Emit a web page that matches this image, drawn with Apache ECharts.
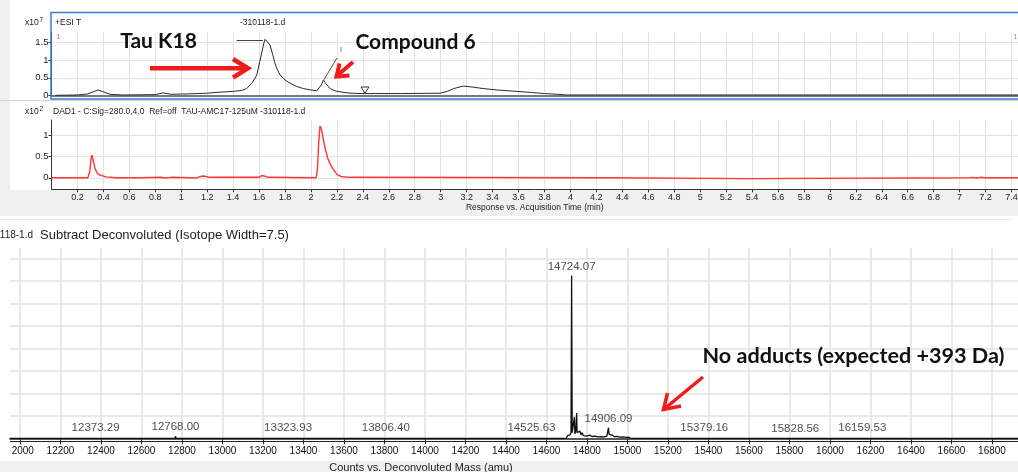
<!DOCTYPE html>
<html><head><meta charset="utf-8">
<script src="https://cdn.jsdelivr.net/npm/echarts@6/dist/echarts.min.js"></script>
<style>html,body{margin:0;padding:0;background:#fff}#c{width:1018px;height:472px}</style>
</head><body><div id="c"></div><script>
// ---- Data ----
// Total ion chromatogram (+ESI TIC), x10^7 counts vs time (min)
const ticTime = [0.03,0.2,0.28,0.33,0.36,0.39,0.45,0.55,0.8,0.86,0.92,1.05,1.2,1.3,1.4,1.47,1.505,1.55,1.582,1.605,1.62,1.635,1.646,1.66,1.685,1.705,1.723,1.742,1.762,1.8,1.839,1.89,1.941,2.0,2.045,2.06,2.08,2.096,2.11,2.147,2.19,2.224,2.301,2.4,2.7,2.995,3.05,3.1,3.173,3.25,3.327,3.435,3.55,3.7,3.8,3.9,3.97,4.5,5.5,6.5,7.45];
const ticValue = [0.01,0.02,0.05,0.12,0.16,0.12,0.04,0.02,0.03,0.08,0.04,0.05,0.07,0.1,0.12,0.15,0.2,0.38,0.58,0.95,1.19,1.45,1.58,1.56,1.42,1.15,0.9,0.72,0.58,0.44,0.35,0.26,0.2,0.16,0.14,0.16,0.3,0.44,0.36,0.2,0.13,0.11,0.07,0.06,0.06,0.07,0.12,0.2,0.27,0.24,0.2,0.16,0.13,0.09,0.06,0.04,0.02,0.02,0.02,0.02,0.02];
// DAD1 280 nm trace, x10^2 vs time (min)
const dadTime = [0,0.28,0.295,0.305,0.31,0.318,0.335,0.355,0.375,0.42,0.5,0.68,0.69,0.85,0.88,0.92,1.08,1.12,1.15,1.17,1.19,1.22,1.6,1.62,1.64,1.67,2.04,2.05,2.06,2.07,2.08,2.095,2.11,2.13,2.147,2.17,2.2,2.23,2.3,4.26,4.27,5.38,5.39,7.08,7.1,7.13,7.16,7.2,7.45];
const dadValue = [0,0,0.15,0.45,0.53,0.45,0.22,0.1,0.06,0.02,0,0,0.01,0.01,-0.005,0.01,0,-0.005,0.03,0.04,0.03,0.01,0.01,0.05,0.04,0.01,0,0.2,0.85,1.21,1.15,0.9,0.68,0.45,0.33,0.2,0.08,0.03,0.01,0,-0.02,-0.02,0,0,0.01,-0.005,0.01,0,0];
// Deconvoluted mass spectrum (relative counts) vs mass (amu)
const msMass = [11950,12370,12373.29,12376,12765,12768,12771,13321,13323.93,13327,13803,13806.4,13809,14522,14525.63,14529,14698,14704,14710,14716,14721,14724.07,14727,14733,14736,14738,14740,14745,14747,14749,14751,14756,14760,14765,14770,14776,14782,14790,14800,14812,14825,14840,14855,14870,14885,14898,14903,14906.09,14909,14915,14925,14935,14948,14962,14978,14995,15005,15015,15376,15379.16,15382,15825,15828.56,15832,16156,16159.53,16163,16930];
const msIntensity = [0,0,0.05,0,0,0.1,0,0,0.08,0,0,0.05,0,0,0.08,0,0,0.12,0.05,0.15,0.25,7.24,0.25,0.2,0.3,0.95,0.2,0.35,0.3,1.12,0.25,0.3,0.2,0.32,0.15,0.25,0.12,0.2,0.1,0.14,0.08,0.1,0.06,0.07,0.06,0.1,0.15,0.47,0.18,0.1,0.14,0.07,0.09,0.05,0.06,0.04,0.05,0,0,0.05,0,0,0.03,0,0,0.08,0,0];
// Labelled peaks
const peakMass = [12373.29,12768.00,13323.93,13806.40,14525.63,14724.07,14906.09,15379.16,15828.56,16159.53];
const peakTop = [0.05,0.1,0.08,0.05,0.08,7.24,0.47,0.05,0.03,0.08];
// Tick labels
const timeTicks = [0.2,0.4,0.6,0.8,1,1.2,1.4,1.6,1.8,2,2.2,2.4,2.6,2.8,3,3.2,3.4,3.6,3.8,4,4.2,4.4,4.6,4.8,5,5.2,5.4,5.6,5.8,6,6.2,6.4,6.6,6.8,7,7.2,7.4];
const ticYTicks = [0,0.5,1,1.5];
const dadYTicks = [0,0.5,1];
const massTicks = [12000,12200,12400,12600,12800,13000,13200,13400,13600,13800,14000,14200,14400,14600,14800,15000,15200,15400,15600,15800,16000,16200,16400,16600,16800];
const msGridValues = [1,2,3,4,5,6,7,8];

// ---- Chart ----
const F = '"Liberation Sans", Arial, sans-serif';
const A = 'Lato, "Open Sans", sans-serif';
const zip = (a, b) => a.map((v, i) => [v, b[i]]);
const gridLine = {show: true, lineStyle: {color: '#e3e3e3', width: 1}};

function txt(x, y, text, size, opt) {
  opt = opt || {};
  return {type: 'text', x: x, y: y, z: 60, silent: true,
    style: {text: text, fontSize: size, fontFamily: opt.family || F, fontWeight: opt.weight || 'normal',
      fill: opt.color || '#222', textAlign: opt.align || 'left', textVerticalAlign: 'middle'}};
}
function line(x1, y1, x2, y2, color, w, z) {
  return {type: 'line', z: z == null ? 55 : z, silent: true, shape: {x1: x1, y1: y1, x2: x2, y2: y2},
    style: {stroke: color, lineWidth: w}};
}
function poly(points, color, w) {
  return {type: 'polyline', z: 70, silent: true, shape: {points: points},
    style: {stroke: color, lineWidth: w, fill: null, lineJoin: 'miter'}};
}
const RED = '#f01c1c';

const graphics = [
  {type: 'rect', z: -20, silent: true, shape: {x: 0, y: 0, width: 1018, height: 216}, style: {fill: '#f0f0f0'}},
  {type: 'rect', z: -19, silent: true, shape: {x: 10, y: 0, width: 1008, height: 190}, style: {fill: '#ffffff'}},
  {type: 'rect', z: -19, silent: true, shape: {x: 0, y: 461, width: 1018, height: 11}, style: {fill: '#f0f0f0'}},
  {type: 'rect', z: 50, silent: true, shape: {x: 0, y: 443, width: 11.8, height: 17}, style: {fill: '#ffffff'}},
  {type: 'rect', z: 50, silent: true, shape: {x: 51, y: 12.5, width: 975, height: 86.5}, style: {fill: null, stroke: '#3b78d8', lineWidth: 1.5}},
  line(0, 100.5, 1018, 100.5, '#c9d7ec', 1, -18),
  line(0, 219.5, 1012, 219.5, '#e4e9f0', 1, -18),
  line(10, 441.5, 1018, 441.5, '#222', 1.2),
  // panel texts
  txt(25, 22.5, 'x10', 8.5), txt(39.5, 20, '7', 6.5),
  txt(55, 22.5, '+ESI T', 8.5),
  txt(240, 22.5, '-310118-1.d', 8.5),
  txt(56, 37, '1', 8, {color: '#999'}), txt(1013, 36.5, '1', 8, {color: '#999'}),
  txt(25, 112, 'x10', 8.5), txt(39.5, 109.5, '2', 6.5),
  txt(53, 112, 'DAD1 - C:Sig=280.0,4.0  Ref=off  TAU-AMC17-125uM -310118-1.d', 8.5),
  txt(33, 235.5, '0118-1.d', 10, {align: 'right'}),
  txt(40, 235.5, 'Subtract Deconvoluted (Isotope Width=7.5)', 13),
  txt(421, 467.5, 'Counts vs. Deconvoluted Mass (amu)', 11, {align: 'center'}),
  // leader lines / markers in the TIC
  line(236.5, 40.5, 263, 40.5, '#444', 1),
  line(323.5, 80.5, 337, 58, '#555', 1),
  line(341, 47, 341, 52, '#888', 1),
  {type: 'polygon', z: 55, silent: true, shape: {points: [[361, 87], [369, 87], [365, 93]]}, style: {fill: '#fff', stroke: '#333', lineWidth: 1}},
  // annotations
  txt(158.5, 41.5, 'Tau K18', 21, {family: A, weight: 'bold', color: '#111', align: 'center'}),
  txt(415.5, 42, 'Compound 6', 21, {family: A, weight: 'bold', color: '#111', align: 'center'}),
  txt(853.5, 356.5, 'No adducts (expected +393 Da)', 21.6, {family: A, weight: 'bold', color: '#111', align: 'center'}),
  // red arrows
  line(150, 68.3, 245, 68.3, RED, 4.5, 70),
  poly([[233, 59], [248, 68.3], [233, 77.5]], RED, 4.5),
  line(353, 62, 339, 74, RED, 4, 70),
  poly([[339.5, 63.5], [336.5, 76.5], [349.5, 75.5]], RED, 4),
  line(703, 377, 666, 407.5, RED, 3.5, 70),
  poly([[667.5, 393], [663.5, 409.5], [681, 406]], RED, 3.5)
];

const chart = echarts.init(document.getElementById('c'), null, {renderer: 'canvas'});
chart.setOption({
  animation: false,
  backgroundColor: '#ffffff',
  textStyle: {fontFamily: F},
  grid: [
    {left: 51.5, right: 0, top: 32.2, height: 63.5, outerBoundsMode: 'none'},
    {left: 51.5, right: 0, top: 120, height: 69.3, outerBoundsMode: 'none'},
    {left: 10, right: 0, top: 248, height: 190.3, outerBoundsMode: 'none'}
  ],
  xAxis: [
    {gridIndex: 0, type: 'value', min: 0, max: 7.45,
      axisLine: {show: true, onZero: false, lineStyle: {color: '#7a7a7a', width: 2}},
      axisTick: {show: false, customValues: timeTicks},
      axisLabel: {show: false, customValues: timeTicks},
      splitLine: gridLine},
    {gridIndex: 1, type: 'value', min: 0, max: 7.45,
      axisLine: {show: true, onZero: false, lineStyle: {color: '#333', width: 1}},
      axisTick: {show: true, length: 3, customValues: timeTicks, lineStyle: {color: '#333'}},
      axisLabel: {customValues: timeTicks, fontSize: 9, color: '#222', margin: 4, fontFamily: F},
      splitLine: gridLine,
      name: 'Response vs. Acquisition Time (min)', nameLocation: 'middle', nameGap: 14,
      nameTextStyle: {fontSize: 8.5, color: '#222', fontFamily: F}},
    {gridIndex: 2, type: 'value', min: 11950.6, max: 16928.4,
      axisLine: {show: true, onZero: false, lineStyle: {color: '#222', width: 1.5}},
      axisTick: {show: true, length: 6, customValues: massTicks, lineStyle: {color: '#222'}},
      axisLabel: {customValues: massTicks, fontSize: 10, color: '#111', margin: 8, fontFamily: F,
        formatter: v => String(Math.round(v))},
      splitLine: {show: true, lineStyle: {color: '#e2e2e2', width: 1.5}}}
  ],
  yAxis: [
    {gridIndex: 0, type: 'value', min: 0, max: 1.78,
      axisLine: {show: true, lineStyle: {color: '#333'}},
      axisTick: {show: true, length: 3, customValues: ticYTicks, lineStyle: {color: '#333'}},
      axisLabel: {customValues: ticYTicks, fontSize: 9.5, color: '#222', margin: 3, fontFamily: F},
      splitLine: gridLine},
    {gridIndex: 1, type: 'value', min: -0.27, max: 1.35,
      axisLine: {show: true, lineStyle: {color: '#333'}},
      axisTick: {show: true, length: 3, customValues: dadYTicks, lineStyle: {color: '#333'}},
      axisLabel: {customValues: dadYTicks, fontSize: 9.5, color: '#222', margin: 3, fontFamily: F},
      splitLine: gridLine},
    {gridIndex: 2, type: 'value', min: 0, max: 8.46,
      axisLine: {show: false}, axisTick: {show: false, customValues: msGridValues},
      axisLabel: {show: false, customValues: msGridValues},
      splitLine: {show: true, lineStyle: {color: '#e2e2e2', width: 1.5}}}
  ],
  series: [
    {type: 'line', xAxisIndex: 0, yAxisIndex: 0, data: zip(ticTime, ticValue), symbol: 'none', silent: true,
      lineStyle: {color: '#2b2b2b', width: 1}, z: 5},
    {type: 'line', xAxisIndex: 1, yAxisIndex: 1, data: zip(dadTime, dadValue), symbol: 'none', silent: true,
      lineStyle: {color: '#ff3434', width: 1.4}, z: 5},
    {type: 'line', xAxisIndex: 2, yAxisIndex: 2, data: zip(msMass, msIntensity), symbol: 'none', silent: true,
      lineStyle: {color: '#111', width: 1.3}, z: 5},
    {type: 'scatter', xAxisIndex: 2, yAxisIndex: 2, data: zip(peakMass, peakTop), symbolSize: 0, silent: true,
      label: {show: true, position: 'top', distance: 3, fontSize: 11.5, color: '#222', fontFamily: F,
        formatter: p => p.value[0].toFixed(2)}, z: 6}
  ],
  graphic: {elements: graphics}
});
</script></body></html>
